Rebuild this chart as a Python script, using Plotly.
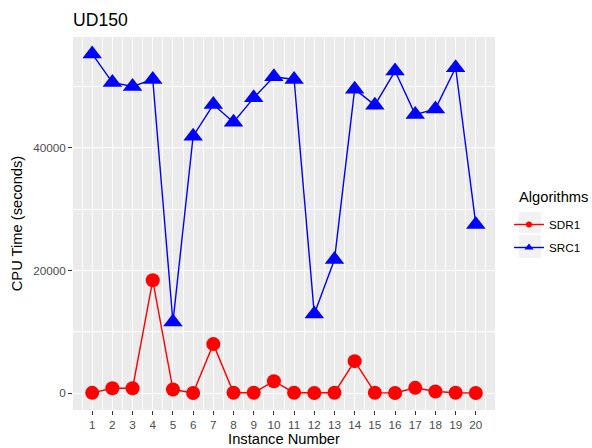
import plotly.graph_objects as go

# Instance ids and CPU time (seconds) for the two algorithms
instances = list(range(1, 21))
sdr1 = [30, 790, 790, 18390, 570, 0, 7980, 40, 40, 1930,
        60, 0, 60, 5200, 60, 0, 850, 250, 60, 0]
src1 = [55310, 50670, 50000, 51150, 11580, 41890, 47060, 44180, 48150, 51590,
        51150, 12880, 21780, 49570, 46960, 52520, 45420, 46350, 53060, 27500]

x_ticks = instances
y_ticks = [0, 20000, 40000]
y_minor = [10000, 30000, 50000]
x_minor = [i + 0.5 for i in range(0, 21)]

RED = "#FF0000"
BLUE = "#0000FF"
FONT = "Liberation Sans"

# ggplot-style 5% expansion on both scales
all_y = sdr1 + src1
ymin, ymax = min(all_y), max(all_y)
ypad = 0.05 * (ymax - ymin)
xpad = 0.05 * (max(instances) - min(instances))

fig = go.Figure()

fig.add_trace(go.Scatter(
    x=instances, y=sdr1, mode="lines+markers", name="SDR1",
    line=dict(color=RED, width=1.4),
    marker=dict(symbol="circle", size=14, color=RED),
    showlegend=False,
))
fig.add_trace(go.Scatter(
    x=instances, y=src1, mode="lines+markers", name="SRC1",
    line=dict(color=BLUE, width=1.4),
    marker=dict(symbol="triangle-up", size=17, color=BLUE),
    showlegend=False,
))

# Legend entries with small key glyphs
fig.add_trace(go.Scatter(
    x=[None], y=[None], mode="lines+markers", name="SDR1", legendgroup="a",
    line=dict(color=RED, width=1.4),
    marker=dict(symbol="circle", size=6, color=RED),
))
fig.add_trace(go.Scatter(
    x=[None], y=[None], mode="lines+markers", name="SRC1", legendgroup="b",
    line=dict(color=BLUE, width=1.4),
    marker=dict(symbol="triangle-up", size=8, color=BLUE),
))

L, R, T, B = 73, 97, 37, 38
W, H = 592, 448
pw, ph = W - L - R, H - T - B


def cx(p):
    return p / W


def cy(p):
    return 1 - p / H


# grey key backgrounds behind the legend glyphs
shapes = []
for top, bot in [(212, 233), (235, 258)]:
    shapes.append(dict(
        type="rect", xref="paper", yref="paper",
        x0=(519 - L) / pw, x1=(541 - L) / pw,
        y0=(H - B - bot) / ph, y1=(H - B - top) / ph,
        fillcolor="#F2F2F2", line=dict(width=0), layer="below",
    ))

axis_common = dict(
    showline=False, zeroline=False, automargin=False,
    ticks="outside", ticklen=4, tickwidth=1.1, tickcolor="#333333",
    tickfont=dict(family=FONT, size=11.7, color="#4D4D4D"),
    showgrid=True, gridcolor="#FFFFFF", gridwidth=1.4,
)

fig.update_layout(
    width=W, height=H,
    margin=dict(l=L, r=R, t=T, b=B, autoexpand=False),
    paper_bgcolor="#FFFFFF", plot_bgcolor="#EBEBEB",
    font=dict(family=FONT, color="#000000"),
    title=dict(text="UD150", x=L / W, xanchor="left", xref="container",
               y=1 - 20 / H, yanchor="middle",
               font=dict(family=FONT, size=17.6, color="#000000")),
    xaxis=dict(
        range=[min(instances) - xpad, max(instances) + xpad],
        tickmode="array", tickvals=x_ticks, ticktext=[str(v) for v in x_ticks],
        minor=dict(tickmode="array", tickvals=x_minor, showgrid=True,
                   gridcolor="#FFFFFF", gridwidth=0.7, ticks=""),
        title=dict(text="Instance Number", standoff=2,
                   font=dict(family=FONT, size=14.7, color="#000000")),
        **axis_common,
    ),
    yaxis=dict(
        range=[ymin - ypad, ymax + ypad],
        tickmode="array", tickvals=y_ticks, ticktext=[str(v) for v in y_ticks],
        minor=dict(tickmode="array", tickvals=y_minor, showgrid=True,
                   gridcolor="#FFFFFF", gridwidth=0.7, ticks=""),
        title=dict(text="CPU Time (seconds)", standoff=6,
                   font=dict(family=FONT, size=14.7, color="#000000")),
        **axis_common,
    ),
    legend=dict(
        xref="container", yref="container",
        x=cx(509), xanchor="left", y=cy(210), yanchor="top",
        bgcolor="rgba(0,0,0,0)",
        font=dict(family=FONT, size=11.7, color="#000000"),
        tracegroupgap=4, itemwidth=30,
    ),
    annotations=[dict(
        text="Algorithms", xref="paper", yref="paper",
        x=(517 - L) / pw, y=(H - B - 197) / ph, xanchor="left", yanchor="middle",
        showarrow=False, font=dict(family=FONT, size=14.7, color="#000000"),
    )],
    shapes=shapes,
)

fig.write_html("out.html")
